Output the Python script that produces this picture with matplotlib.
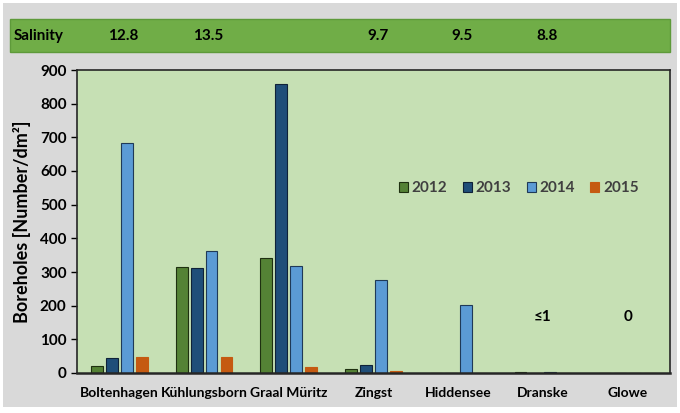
import matplotlib.pyplot as plt
import numpy as np
from matplotlib.patches import Rectangle

# data
sites = ["Boltenhagen", "Kühlungsborn", "Graal Müritz", "Zingst", "Hiddensee", "Dranske", "Glowe"]
years = ["2012", "2013", "2014", "2015"]
bh_2012 = [22, 315, 342, 13, 0, 1.5, 0]
bh_2013 = [45, 313, 857, 25, 0, 0, 0]
bh_2014 = [683, 362, 318, 277, 202, 1.5, 0]
bh_2015 = [47, 49, 18, 5, 0, 0, 0]
salinity = ["12.8", "13.5", "", "9.7", "9.5", "8.8", ""]
notes = {"Dranske": "≤1", "Glowe": "0"}

colors = ["#548235", "#1f4e79", "#5b9bd5", "#c55a11"]
edges = ["#1e3010", "#0f2238", "#1f3a58", "#c55a11"]

plt.rcParams["font.family"] = ["Lato", "DejaVu Sans"]
plt.rcParams["font.weight"] = "bold"

fig = plt.figure(figsize=(6.8, 4.13), dpi=100)
fig.patch.set_facecolor("white")
# grey panel and salinity band
fig.patches.append(Rectangle((3 / 680, 6 / 413), 674 / 680, 404 / 413,
                             transform=fig.transFigure, facecolor="#d9d9d9",
                             edgecolor="none", zorder=-2))
fig.patches.append(Rectangle((10 / 680, (413 - 52) / 413), 660 / 680, 33 / 413,
                             transform=fig.transFigure, facecolor="#70ad47",
                             edgecolor="#5e9a3a", zorder=-1))

ax = fig.add_axes([77 / 680, (413 - 373) / 413, 593 / 680, 303 / 413])
ax.set_facecolor("#c6e0b4")

x = np.arange(len(sites))
w = 0.176
series = [bh_2012, bh_2013, bh_2014, bh_2015]
for i, (vals, yr) in enumerate(zip(series, years)):
    ax.bar(x + (i - 1.5) * w, vals, width=0.14, color=colors[i],
           edgecolor=edges[i], linewidth=0.8, label=yr, zorder=2)

ax.set_xlim(-0.5, len(sites) - 0.5)
ax.set_ylim(0, 900)
ax.set_yticks(np.arange(0, 901, 100))
ax.set_xticks(x)
ax.set_xticklabels(sites, fontsize=10, fontweight="bold")
ax.tick_params(axis="x", length=0, pad=10)
ax.tick_params(axis="y", labelsize=11, length=4, width=1)
for lab in ax.get_yticklabels():
    lab.set_fontweight("bold")
for sp in ax.spines.values():
    sp.set_color("#262626")
    sp.set_linewidth(1.2)
ax.spines["bottom"].set_linewidth(1.8)

ax.set_ylabel("Boreholes [Number/dm²]", fontsize=13, fontweight="bold", labelpad=6)

for name, txt in notes.items():
    ax.text(sites.index(name), 165, txt, ha="center", va="center",
            fontsize=11, fontweight="bold", color="black")

# salinity row
trans = ax.get_xaxis_transform()
fig.text(14 / 680, (413 - 36) / 413, "Salinity", fontsize=11, fontweight="bold",
         va="center", ha="left")
for i, s in enumerate(salinity):
    if s:
        ax.text(i + 0.05, (373 - 36) / 303, s, transform=trans, ha="center",
                va="center", fontsize=11, fontweight="bold", clip_on=False)

leg = ax.legend(loc="center", bbox_to_anchor=(0.745, 0.61), ncol=4, frameon=False,
                fontsize=11, handlelength=0.6, handleheight=0.6, columnspacing=1.0,
                handletextpad=0.25)
for t in leg.get_texts():
    t.set_color("#404040")
    t.set_fontweight("bold")

fig.savefig("out.png", dpi=100)
